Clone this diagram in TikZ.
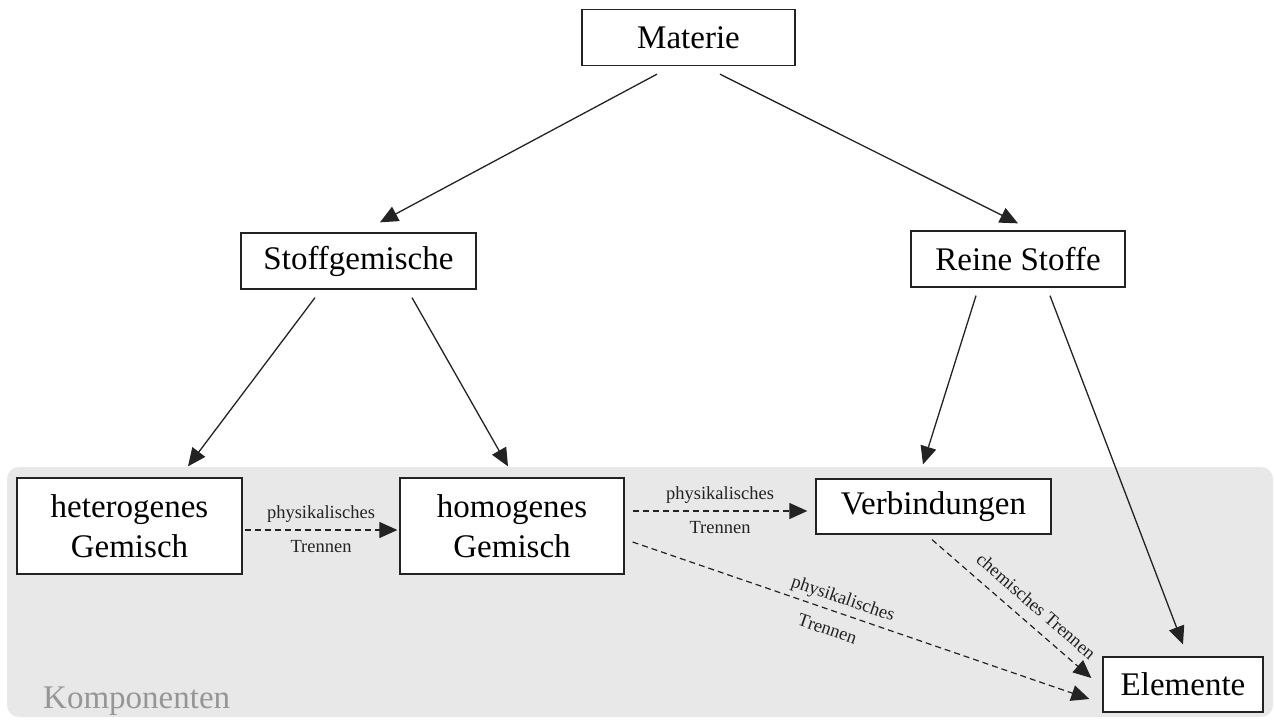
\documentclass[tikz,border=0pt]{standalone}
\usepackage{fontspec}
\setmainfont{Liberation Serif}
\usetikzlibrary{arrows.meta,calc}
\definecolor{bggray}{RGB}{232,232,232}
\definecolor{lblgray}{RGB}{150,150,150}
\definecolor{linec}{RGB}{35,35,35}
\begin{document}
\begin{tikzpicture}[x=1pt,y=-1pt,
  box/.style={draw=linec,line width=1.3pt,fill=white,inner sep=0pt,align=center,
    font=\fontsize{33}{40}\selectfont},
  arr/.style={draw=linec,line width=1.3pt,-{Triangle[length=18pt,width=16pt]}},
  darr/.style={draw=linec,line width=1.2pt,dash pattern=on 6pt off 4pt,-{Triangle[length=18pt,width=16pt]}},
  lbl/.style={font=\fontsize{18.5}{20}\selectfont,inner sep=2pt,text=linec}]
\useasboundingbox (0,0) rectangle (1275,720);
\fill[bggray,rounded corners=12pt] (7,467) rectangle (1273,717);
\node[anchor=base west,text=lblgray,font=\fontsize{33}{40}\selectfont,inner sep=0pt] (komp) at (43,708) {Komponenten};

\node[box,minimum width=213pt,minimum height=56pt] (mat) at (688.5,37.5) {Materie};
\node[box,minimum width=235pt,minimum height=56pt] (stg) at (358.5,261) {Stoffgemische};
\node[box,minimum width=214pt,minimum height=56pt] (rst) at (1018,259) {Reine Stoffe};
\node[box,minimum width=225pt,minimum height=96pt] (het) at (129.5,526) {heterogenes\\Gemisch};
\node[box,minimum width=224pt,minimum height=96pt] (hom) at (512,526) {homogenes\\Gemisch};
\node[box,minimum width=235pt,minimum height=55pt] (ver) at (933.5,506.5) {Verbindungen};
\node[box,minimum width=160pt,minimum height=55pt] (ele) at (1183,684.5) {Elemente};

\draw[arr] ($(mat.south)+(-31.5,8)$) -- ($(stg.north)+(21.5,-10)$);
\draw[arr] ($(mat.south)+(31.5,8)$) -- ($(rst.north)+(0,-7)$);
\draw[arr] ($(stg.south)+(-43.5,8)$) -- ($(het.north)+(58.5,-11)$);
\draw[arr] ($(stg.south)+(53.5,8)$) -- ($(hom.north)+(-4,-11)$);
\draw[arr] ($(rst.south)+(-42,8)$) -- ($(ver.north)+(-10.5,-14)$);
\draw[arr] ($(rst.south)+(32,8)$) -- ($(ele.north)+(0,-12)$);

\draw[darr] ($(het.east)+(2,4)$) -- ($(hom.west)+(-2,4)$)
  node[lbl,midway,above=5pt] {physikalisches}
  node[lbl,midway,below=8pt] {Trennen};
\draw[darr] ($(hom.east)+(8,-15)$) -- ($(ver.west)+(-8,4.5)$)
  node[lbl,midway,above=5pt] {physikalisches}
  node[lbl,midway,below=8pt] {Trennen};
\draw[darr] ($(hom.east)+(8,16)$) -- ($(ele.west)+(-13,14.5)$)
  node[lbl,pos=0.45,sloped,above=3pt] {physikalisches}
  node[lbl,pos=0.44,sloped,below=10pt] {Trennen};
\draw[darr] ($(ver.south)+(-1.5,5)$) -- ($(ele.west)+(-11,-6.5)$)
  node[lbl,pos=0.58,sloped,above=9pt] {chemisches Trennen};
\end{tikzpicture}
\end{document}
